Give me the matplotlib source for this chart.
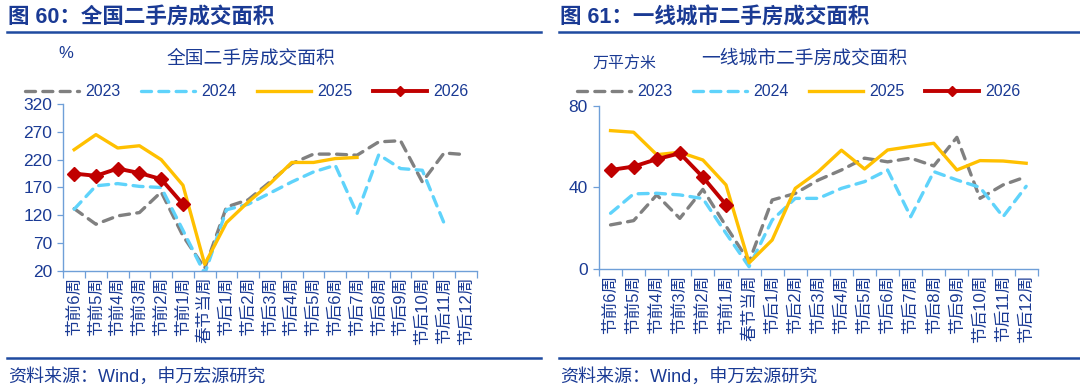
import numpy as np
import matplotlib
matplotlib.use("Agg")
import matplotlib.pyplot as plt
from matplotlib.lines import Line2D

plt.rcParams['font.family'] = ['Liberation Sans', 'Noto Sans CJK SC']

# Categorias (semanas em torno do Ano Novo Chinês)
semanas = ["节前6周", "节前5周", "节前4周", "节前3周", "节前2周", "节前1周", "春节当周",
           "节后1周", "节后2周", "节后3周", "节后4周", "节后5周", "节后6周", "节后7周",
           "节后8周", "节后9周", "节后10周", "节后11周", "节后12周"]
anos = ["2023", "2024", "2025", "2026"]

# Painel esquerdo: 全国二手房成交面积 (%)
nac_2023 = [132, 104, 119, 125, 162, 83, 25, 135, 148, 180, 213, 230, 230, 228, 252, 254, 180, 232, 229]
nac_2024 = [131, 173, 177, 172, 170, 93, 15, 130, 140, 160, 180, 198, 210, 123, 229, 204, 201, 106, None]
nac_2025 = [238, 265, 241, 245, 220, 174, 32, 107, 144, 177, 215, 215, 222, 224] + [None] * 5
nac_2026 = [195, 191, 204, 196, 185, 140] + [None] * 13

# Painel direito: 一线城市二手房成交面积 (万平方米)
t1_2023 = [21.6, 23.7, 36.3, 24.8, 39, 21, 3.5, 33.8, 37, 43.6, 48.5, 54.3, 52.5, 54.3, 50.5, 64.5, 34.6, 41.2, 45.2]
t1_2024 = [27.3, 36.8, 37.1, 36.3, 34.5, 17.5, 1.1, 24, 34.6, 34.6, 39.5, 42.8, 48.5, 25.6, 47.7, 43.6, 40, 25.6, 40.5]
t1_2025 = [67.8, 67, 56, 57.2, 53.4, 41.2, 3, 14.2, 39.5, 47.7, 58.2, 49, 58.3, 60, 61.6, 48.5, 53.1, 52.9, 51.8]
t1_2026 = [48.5, 50.2, 53.8, 56.7, 45, 31.5] + [None] * 13

AZUL_TXT = '#1a3a94'
AZUL_EIXO = '#6f9fd8'
estilos = [
    dict(color='#808080', lw=2.4, ls=(0, (3.0, 2.2)), dash_capstyle='round'),
    dict(color='#5fd3fb', lw=2.4, ls=(0, (3.0, 2.2)), dash_capstyle='round'),
    dict(color='#ffc000', lw=2.4, ls='-'),
    dict(color='#c00000', lw=2.8, ls='-', marker='D', markersize=7),
]

W, H = 1080, 388
fig = plt.figure(figsize=(W / 100, H / 100), dpi=100)


def px(x, y):
    return x / W, 1 - y / H


def painel(rect, series, ylim, yticks):
    ax = fig.add_axes(rect)
    x = np.arange(len(semanas))
    for s, st in zip(series, estilos):
        y = np.array([np.nan if v is None else v for v in s], dtype=float)
        ax.plot(x, y, clip_on=True, **st)
    ax.set_xlim(-0.5, len(semanas) - 0.5)
    ax.set_ylim(*ylim)
    ax.set_yticks(yticks)
    ax.set_xticks(np.arange(-0.5, len(semanas), 1))
    ax.set_xticklabels([])
    ax.set_xticks(x, minor=True)
    ax.set_xticklabels(semanas, minor=True, rotation=90, fontsize=12, color=AZUL_TXT)
    ax.tick_params(axis='x', which='major', length=5, width=0.9, color=AZUL_EIXO, direction='out')
    ax.tick_params(axis='x', which='minor', length=0, pad=4)
    ax.tick_params(axis='y', length=4, width=0.9, color=AZUL_EIXO, labelsize=12.5,
                   labelcolor=AZUL_TXT, pad=4)
    for lado in ['top', 'right']:
        ax.spines[lado].set_visible(False)
    for lado in ['left', 'bottom']:
        ax.spines[lado].set_color(AZUL_EIXO)
        ax.spines[lado].set_linewidth(1.0)
    return ax


# eixos
l0, b0 = px(63.3, 271)
r0, t0 = px(476.7, 104)
painel([l0, b0, r0 - l0, t0 - b0], [nac_2023, nac_2024, nac_2025, nac_2026],
       (20, 320), range(20, 321, 50))

l1, b1 = px(599, 269)
r1, t1 = px(1037.7, 105.7)
painel([l1, b1, r1 - l1, t1 - b1], [t1_2023, t1_2024, t1_2025, t1_2026],
       (0, 80), [0, 40, 80])

# títulos e linhas separadoras
fig.text(*px(8, 18), "图 60：全国二手房成交面积", fontsize=15.5, fontweight='bold',
         color=AZUL_TXT, va='center', ha='left')
fig.text(*px(560, 18), "图 61：一线城市二手房成交面积", fontsize=15.5, fontweight='bold',
         color=AZUL_TXT, va='center', ha='left')
for x0, x1 in [(7, 541), (559, 1080)]:
    fig.add_artist(Line2D([x0 / W, x1 / W], [1 - 31.5 / H] * 2, color='#1f4aa0', lw=1.8))
    fig.add_artist(Line2D([x0 / W, x1 / W], [1 - 357.5 / H] * 2, color='#1f4aa0', lw=1.8))

fig.text(*px(251, 59), "全国二手房成交面积", fontsize=13.5, color=AZUL_TXT, ha='center', va='center')
fig.text(*px(804, 59), "一线城市二手房成交面积", fontsize=13.5, color=AZUL_TXT, ha='center', va='center')
fig.text(*px(66, 54), "%", fontsize=12, color=AZUL_TXT, ha='center', va='center')
fig.text(*px(624, 64), "万平方米", fontsize=11.5, color=AZUL_TXT, ha='center', va='center')

# legendas
handles = [Line2D([], [], **st) for st in estilos]
for x_leg in [25, 577]:
    fig.legend(handles, anos, loc='center left', bbox_to_anchor=px(x_leg, 92), ncol=4,
               frameon=False, fontsize=11.5, labelcolor=AZUL_TXT, handlelength=3.4,
               handletextpad=0.35, columnspacing=1.3, borderpad=0, borderaxespad=0,
               markerscale=0.7)

fig.text(*px(8, 377), "资料来源：Wind，申万宏源研究", fontsize=13, color=AZUL_TXT, va='center', ha='left')
fig.text(*px(560, 377), "资料来源：Wind，申万宏源研究", fontsize=13, color=AZUL_TXT, va='center', ha='left')

fig.savefig("out.png", dpi=100)
